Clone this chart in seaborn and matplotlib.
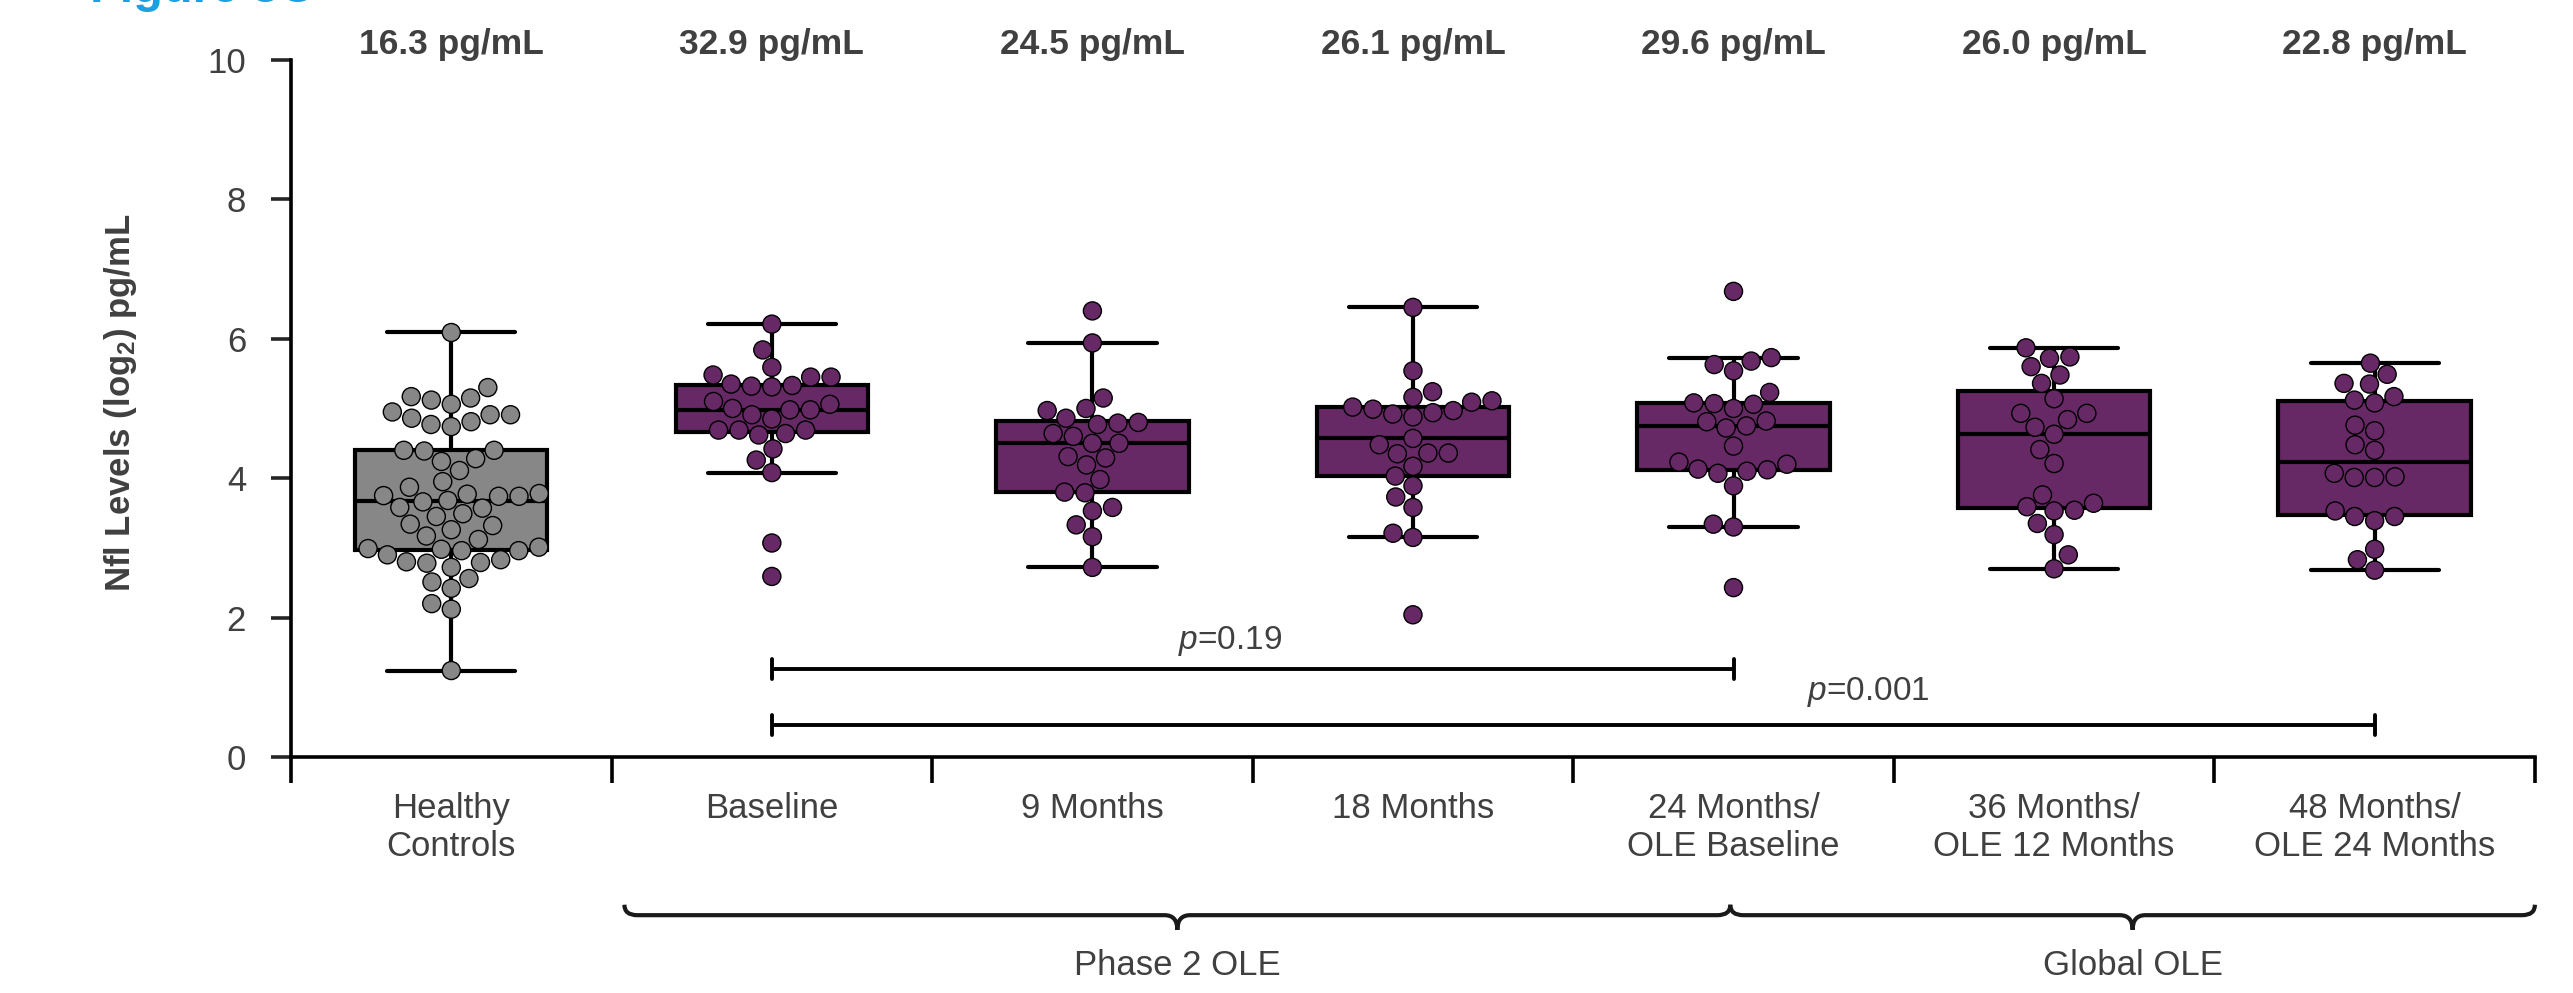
import numpy as np
import pandas as pd
import matplotlib
matplotlib.use('Agg')
import matplotlib.pyplot as plt
from matplotlib.path import Path
from matplotlib.patches import PathPatch
import seaborn as sns

# Values (log2 NfL, pg/mL)
visits = ['Healthy\nControls', 'Baseline', '9 Months', '18 Months', '24 Months/\nOLE Baseline',
          '36 Months/\nOLE 12 Months', '48 Months/\nOLE 24 Months']
geo_means = ['16.3 pg/mL', '32.9 pg/mL', '24.5 pg/mL', '26.1 pg/mL', '29.6 pg/mL', '26.0 pg/mL', '22.8 pg/mL']

healthy = [6.09, 5.30, 5.12, 5.15, 5.17, 5.06, 4.95, 4.91, 4.91, 4.86, 4.77, 4.81, 4.74, 4.40,
           4.40, 4.39, 4.28, 4.24, 4.11, 3.95, 3.87, 3.77, 3.78, 3.74, 3.66, 3.74, 3.68, 3.75,
           3.58, 3.57, 3.49, 3.45, 3.34, 3.32, 3.26, 3.17, 3.12, 3.01, 2.96, 2.90, 2.96, 2.98,
           2.99, 2.83, 2.80, 2.72, 2.78, 2.79, 2.56, 2.51, 2.42, 2.20, 2.12, 1.24]
baseline = [6.21, 5.84, 5.59, 5.48, 5.35, 5.45, 5.45, 5.32, 5.33, 5.31, 5.10, 5.06, 4.98, 4.98,
            5.00, 4.91, 4.85, 4.69, 4.64, 4.69, 4.69, 4.62, 4.42, 4.26, 4.08, 3.07, 2.59]
month9 = [6.40, 5.94, 5.15, 5.00, 4.97, 4.86, 4.80, 4.79, 4.77, 4.64, 4.60, 4.50, 4.50, 4.31,
          4.29, 4.19, 3.98, 3.80, 3.79, 3.58, 3.53, 3.33, 3.16, 2.72]
month18 = [6.45, 5.54, 5.24, 5.16, 5.11, 5.09, 4.99, 4.92, 4.88, 4.94, 4.97, 5.02, 4.57, 4.48,
           4.36, 4.35, 4.36, 4.17, 4.03, 3.89, 3.73, 3.58, 3.21, 3.15, 2.04]
month24 = [6.68, 5.63, 5.68, 5.73, 5.54, 5.23, 5.07, 5.06, 5.08, 5.00, 4.81, 4.82, 4.75, 4.72,
           4.46, 4.23, 4.20, 4.12, 4.13, 4.10, 4.07, 3.89, 3.34, 3.30, 2.43]
month36 = [5.87, 5.74, 5.72, 5.60, 5.48, 5.36, 5.14, 4.93, 4.93, 4.84, 4.73, 4.63, 4.41, 4.21,
           3.76, 3.64, 3.53, 3.59, 3.54, 3.35, 3.19, 2.90, 2.70]
month48 = [5.65, 5.49, 5.36, 5.35, 5.12, 5.17, 5.08, 4.76, 4.68, 4.48, 4.40, 4.01, 4.01, 4.02,
           4.07, 3.53, 3.45, 3.39, 3.45, 2.98, 2.83, 2.68]

# comparison brackets: (from, to, height, label, label x, label y)
comparisons = [(1, 4, 1.26, '$p$=0.19', 2.43, 1.55),
               (1, 6, 0.46, '$p$=0.001', 4.42, 0.82)]
# study phase braces: (start, end, label)
phases = [(0.54, 3.99, 'Phase 2 OLE'), (3.99, 6.5, 'Global OLE')]

gray = '#878787'
purple = '#672866'
palette = [gray] + [purple] * 6
text_col = '#404040'

groups = [healthy, baseline, month9, month18, month24, month36, month48]
df = pd.DataFrame({'visit': np.repeat(visits, [len(g) for g in groups]),
                   'nfl': np.concatenate(groups)})

sns.set_style('ticks')
plt.rcParams['font.family'] = ['Liberation Sans', 'DejaVu Sans']
plt.rcParams['mathtext.fontset'] = 'custom'
plt.rcParams['mathtext.rm'] = 'Liberation Sans'
plt.rcParams['mathtext.it'] = 'Liberation Sans:italic'
plt.rcParams['mathtext.bf'] = 'Liberation Sans:bold'

fig = plt.figure(figsize=(25.73, 9.93), dpi=100)
ax = fig.add_axes([0.1131, 0.2377, 0.8721, 0.7019])

sns.boxplot(data=df, x='visit', y='nfl', hue='visit', order=visits, hue_order=visits,
            palette=palette, saturation=1, width=0.6, linecolor='black', linewidth=3.0,
            showfliers=False, whis=1.5, legend=False, capwidths=0.4, ax=ax)
sns.swarmplot(data=df, x='visit', y='nfl', hue='visit', order=visits, hue_order=visits,
              palette=palette, size=13, edgecolor='black', linewidth=1, legend=False,
              zorder=3, ax=ax)

ax.set_xlim(-0.5, 6.5)
ax.set_ylim(0, 10)
ax.set_yticks([0, 2, 4, 6, 8, 10])
ax.set_xticks(np.arange(-0.5, 7.0, 1.0))
ax.set_xticklabels([])
ax.set_xticks(range(7), minor=True)
ax.set_xticklabels(visits, minor=True, fontsize=25, color=text_col)
ax.tick_params(axis='x', which='minor', length=0, pad=25)
ax.tick_params(axis='x', which='major', length=18.7, width=2.6, direction='out', color='black')
ax.tick_params(axis='y', length=14.4, width=2.6, pad=18, labelsize=25, labelcolor=text_col)
sns.despine(ax=ax)
for s in ['left', 'bottom']:
    ax.spines[s].set_linewidth(2.6)
    ax.spines[s].set_color('black')
ax.set_xlabel('')
ax.set_ylabel('')
ax.text(-0.0762, 0.509, r'Nfl Levels (log$_{\mathbf{2}}$) pg/mL', transform=ax.transAxes,
        rotation=90, ha='center', va='center', fontsize=25, fontweight='bold', color=text_col)

for i, lab in enumerate(geo_means):
    ax.text(i, 10.09, lab, ha='center', va='baseline', fontsize=25.5, fontweight='bold',
            color=text_col, clip_on=False)

for x0, x1, y, lab, tx, ty in comparisons:
    ax.plot([x0, x1], [y, y], color='black', lw=2.8, solid_capstyle='butt', clip_on=False)
    for xe in (x0, x1):
        ax.plot([xe, xe], [y - 0.14, y + 0.14], color='black', lw=2.8, clip_on=False)
    ax.text(tx, ty, lab, ha='center', va='baseline', fontsize=24, color=text_col)


def brace(x0, x1, yl=-2.27, yt=-2.12, yb=-2.48, r=0.04):
    xm = (x0 + x1) / 2
    verts = [(x0, yt), (x0, yl), (x0 + r, yl), (xm - r, yl), (xm, yl), (xm, yb),
             (xm, yl), (xm + r, yl), (x1 - r, yl), (x1, yl), (x1, yt)]
    codes = [Path.MOVETO, Path.CURVE3, Path.CURVE3, Path.LINETO, Path.CURVE3, Path.CURVE3,
             Path.CURVE3, Path.CURVE3, Path.LINETO, Path.CURVE3, Path.CURVE3]
    ax.add_patch(PathPatch(Path(verts, codes), fill=False, lw=3.0, edgecolor='#1a1a1a',
                           clip_on=False, transform=ax.transData))
    return xm


for x0, x1, lab in phases:
    xm = brace(x0, x1)
    ax.text(xm, -3.13, lab, ha='center', va='baseline', fontsize=25, color=text_col,
            clip_on=False)

fig.text(90 / 2573, 1 - 2 / 993, 'Figure 3C', ha='left', va='baseline', fontsize=35,
         fontweight='bold', color='#1ba1e2')

fig.savefig('out.png', dpi=100)
